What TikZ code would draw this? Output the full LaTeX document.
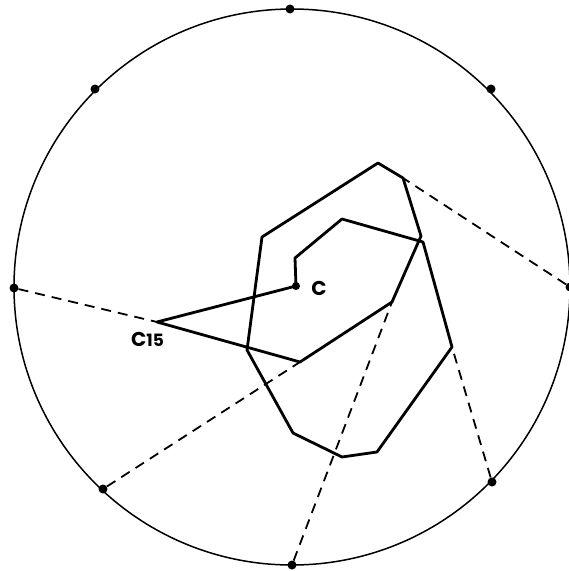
\documentclass[tikz,border=0pt]{standalone}
\usepackage{fontspec}
\setmainfont{Poppins}
\usetikzlibrary{positioning}
\tikzset{
  rim/.style={draw,line width=1.5pt},
  walk/.style={draw,line width=2.8pt,line join=round},
  chord/.style={draw,line width=1.8pt,dash pattern=on 10pt off 7pt},
  rimdot/.style={circle,fill,inner sep=0pt,minimum size=9pt},
  lbl/.style={font=\fontsize{20}{20}\selectfont\bfseries,inner sep=0pt}
}

\begin{document}
\begin{tikzpicture}[x=1pt,y=-1pt]
  \useasboundingbox (0,0) rectangle (569,571);
  \node[circle,rim,inner sep=0pt,minimum size=556pt] (rim) at (292,287) {};
  \node[rimdot] (top)    at (290,9)   {};
  \node[rimdot] (uright) at (491,89)  {};
  \node[rimdot] (right)  at (570,287) {};
  \node[rimdot] (lright) at (492,482) {};
  \node[rimdot] (bottom) at (292,565) {};
  \node[rimdot] (lleft)  at (103,489) {};
  \node[rimdot] (left)   at (14,288)  {};
  \node[rimdot] (uleft)  at (95,89)   {};
  \coordinate (p1)  at (262,237);
  \coordinate (p2)  at (378,163);
  \coordinate (p3)  at (403,178);
  \coordinate (p4)  at (421,236);
  \coordinate (p5)  at (392,302);
  \coordinate (p6)  at (300,362);
  \coordinate (c15) at (157,322);
  \node[rimdot,minimum size=8pt] (c) at (296,286) {};
  \coordinate (p7)  at (295,258);
  \coordinate (p8)  at (342,219);
  \coordinate (p9)  at (423,242);
  \coordinate (p10) at (452,347);
  \coordinate (p11) at (377,452);
  \coordinate (p12) at (342,457);
  \coordinate (p13) at (293,433);
  \coordinate (p14) at (247,350);
  \path[walk] (p1) -- (p2) -- (p3) -- (p4) -- (p5) -- (p6) -- (c15)
    -- (c.center) -- (p7) -- (p8) -- (p9) -- (p10) -- (p11) -- (p12)
    -- (p13) -- (p14) -- cycle;
  \draw[chord] (right)  -- (p3);
  \draw[chord] (left)   -- (c15);
  \draw[chord] (lleft)  -- (p6);
  \draw[chord] (bottom) -- (p5);
  \draw[chord] (lright) -- (p10);
  \node[lbl,right=11pt of c,yshift=-2pt] (clabel) {C};
  \node[lbl,anchor=north east] (c15label) at (164,332) {C{\fontsize{17}{17}\selectfont 15}};
\end{tikzpicture}
\end{document}
